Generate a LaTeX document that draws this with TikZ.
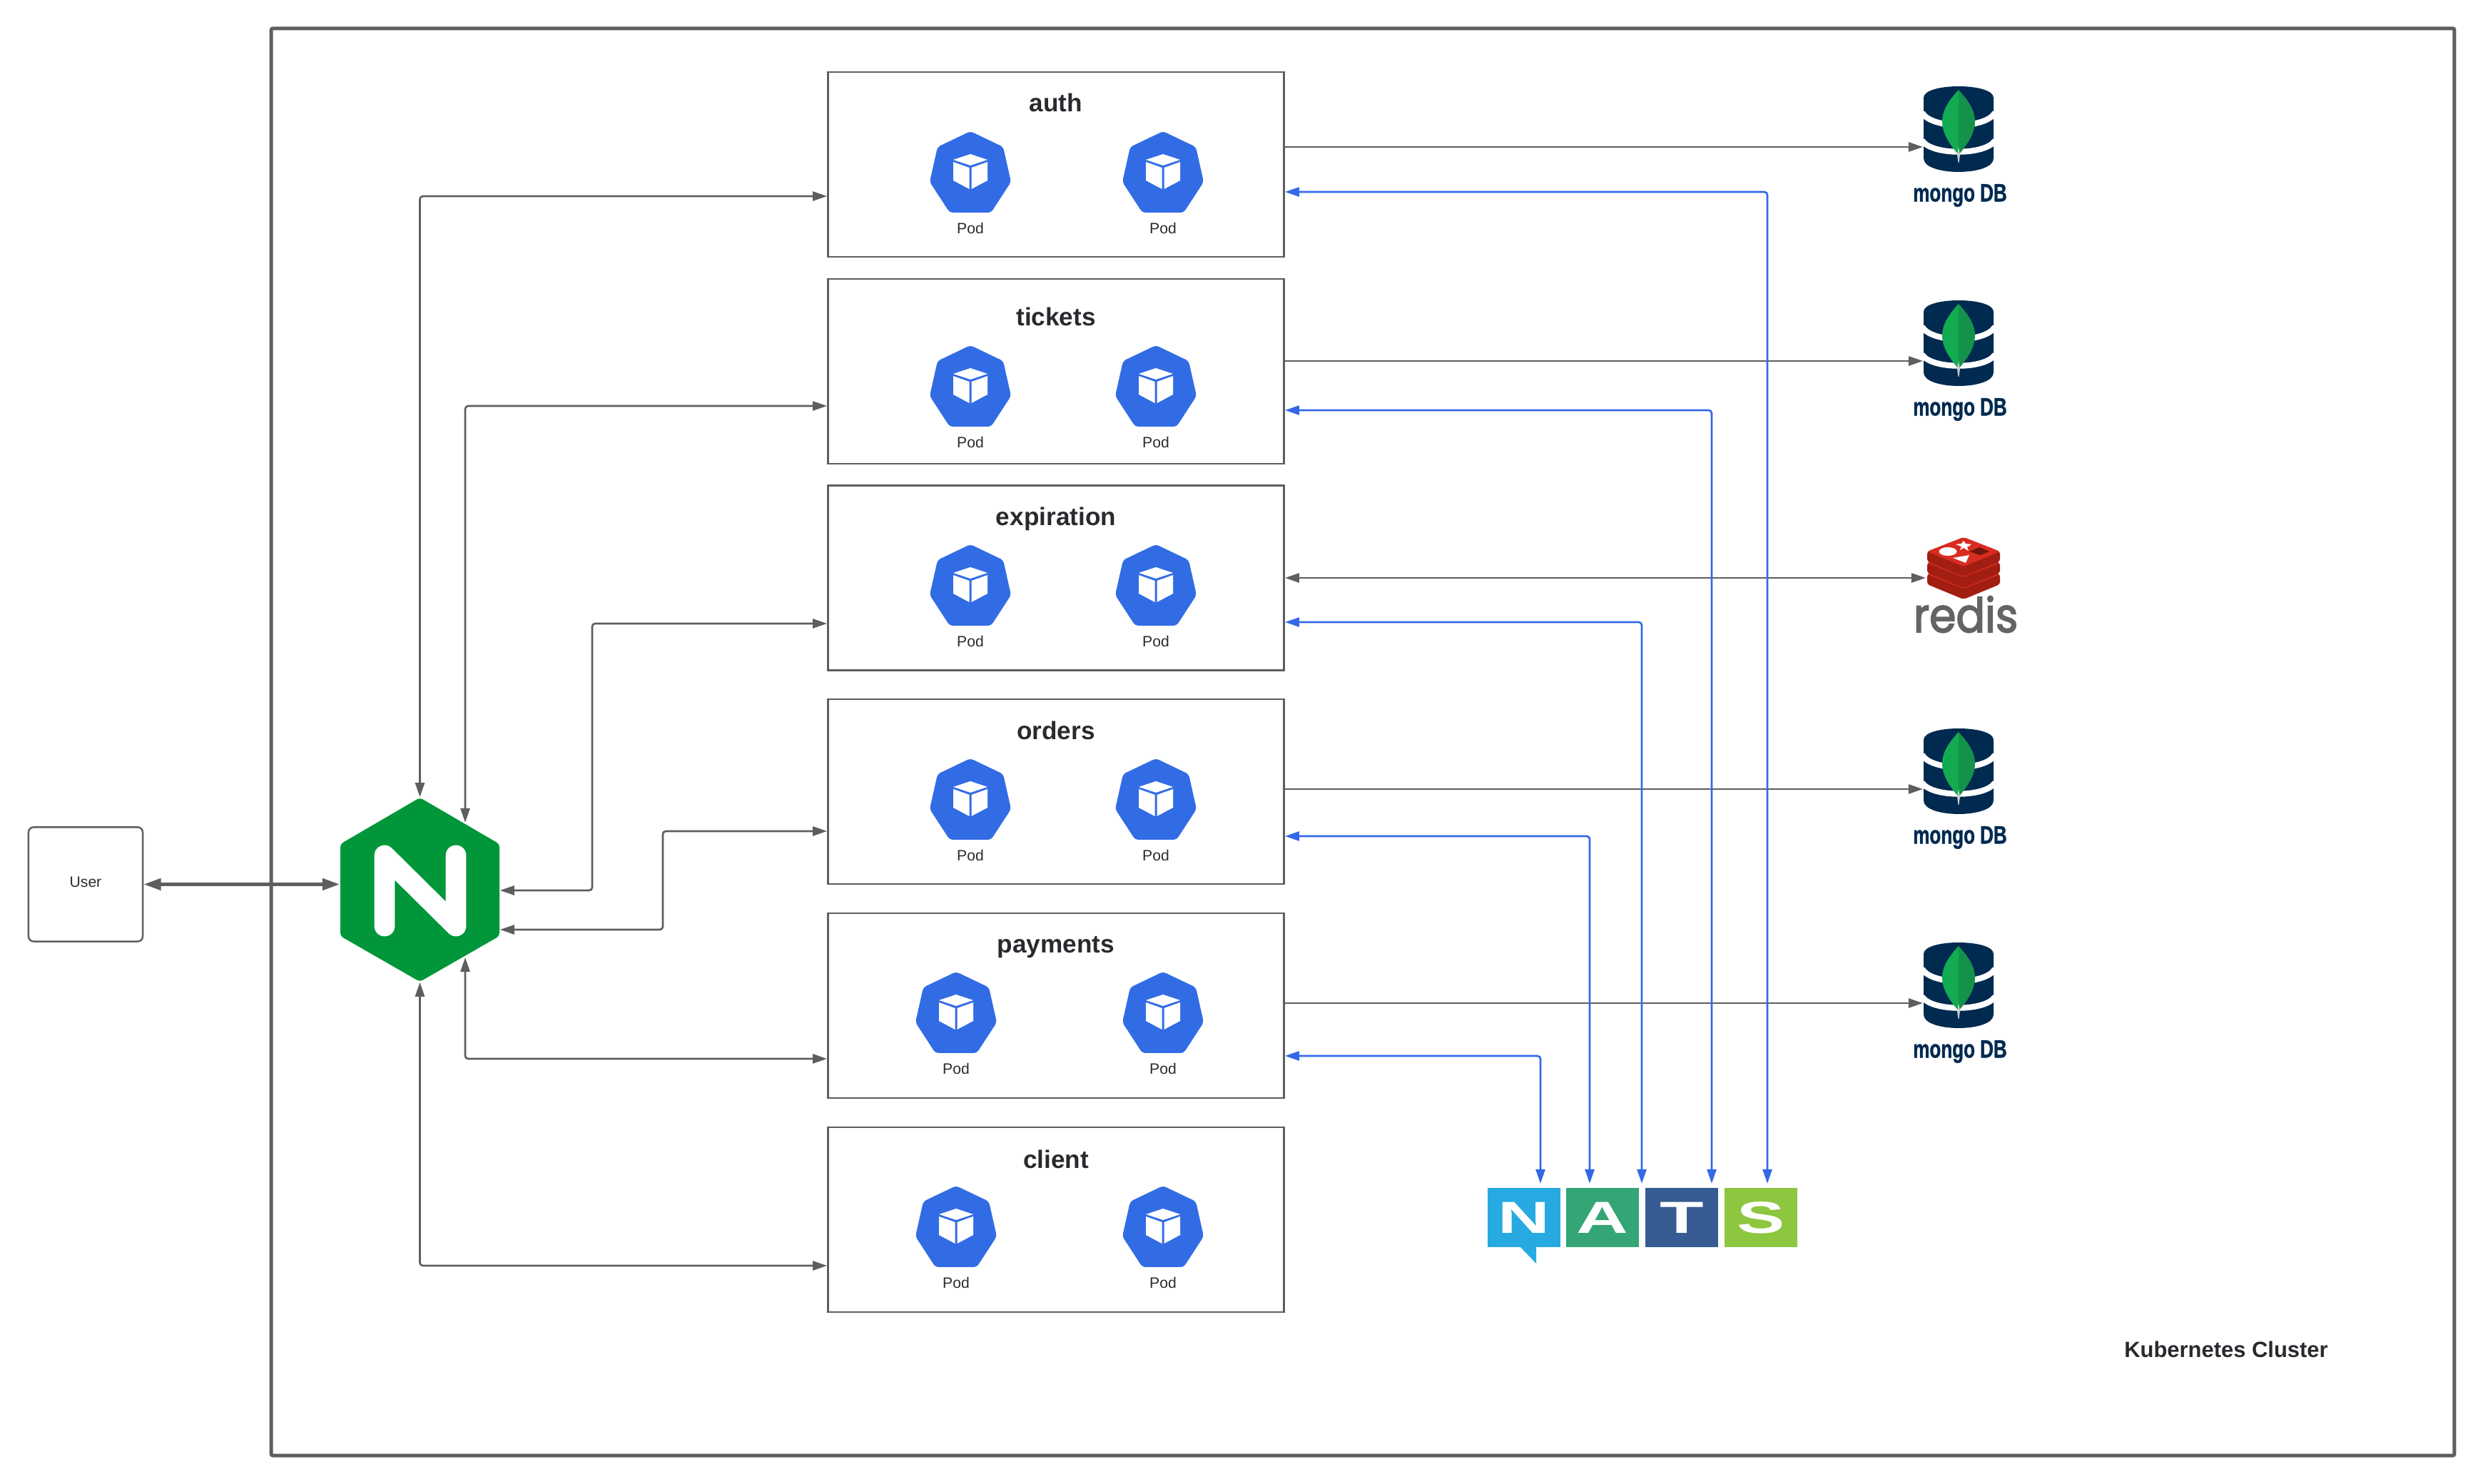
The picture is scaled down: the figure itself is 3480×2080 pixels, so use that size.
\documentclass[tikz,border=0pt]{standalone}
\usepackage{xcolor}
\usepackage{fontspec}
\setmainfont{Liberation Sans}
\newfontfamily\mongofont{Liberation Sans}[FakeStretch=0.74,FakeBold=1.2]
\newfontfamily\natsfont{Liberation Sans}[FakeStretch=1.6]
\newfontfamily\redisfont{Poppins}[FakeStretch=0.9,FakeBold=2.5]
\usepackage{tikz}
\usetikzlibrary{positioning, arrows.meta}
\definecolor{linegray}{RGB}{94,94,94}
\definecolor{busblue}{RGB}{51,105,231}
\definecolor{podblue}{RGB}{50,108,229}
\definecolor{textdark}{RGB}{40,42,46}
\definecolor{nginxgreen}{RGB}{0,150,57}
\definecolor{mongonavy}{RGB}{0,42,80}
\definecolor{leaflight}{RGB}{19,170,82}
\definecolor{leafdark}{RGB}{20,146,74}
\definecolor{redislight}{RGB}{216,44,32}
\definecolor{redisdark}{RGB}{162,30,18}
\definecolor{redisgray}{RGB}{99,100,102}
\definecolor{natsn}{RGB}{39,170,225}
\definecolor{natsa}{RGB}{52,165,116}
\definecolor{natst}{RGB}{55,92,147}
\definecolor{natss}{RGB}{141,198,63}

\begin{document}
\begin{tikzpicture}[
  x=0.01cm, y=-0.01cm,
  cluster/.style={rectangle, draw=linegray, line width=1.4pt, rounded corners=0.6pt,
                  minimum width=30.58cm, minimum height=19.99cm},
  svc/.style={rectangle, draw=linegray, line width=0.7pt,
              minimum width=6.39cm, minimum height=2.59cm},
  svclbl/.style={font=\fontsize{10pt}{12pt}\selectfont\bfseries, text=textdark},
  userbox/.style={rectangle, draw=linegray, line width=0.7pt, rounded corners=2pt,
                  minimum width=1.6cm, minimum height=1.6cm, text=textdark,
                  font=\fontsize{6pt}{7pt}\selectfont},
  hub/.style={rectangle, inner sep=0pt, minimum width=2.23cm, minimum height=2.58cm},
  tile/.style={rectangle, inner sep=0pt, minimum width=1.02cm, minimum height=0.83cm,
               text=white, font=\fontsize{17.9pt}{18pt}\natsfont\bfseries},
  arr/.style={{Triangle[length=5.7pt,width=3.7pt]}-{Triangle[length=5.7pt,width=3.7pt]},
              draw=linegray, line width=0.75pt, rounded corners=1.2pt},
  thickarr/.style={{Triangle[length=6.9pt,width=4.5pt]}-{Triangle[length=6.9pt,width=4.5pt]},
              draw=linegray, line width=1.4pt},
  oneway/.style={-{Triangle[length=5.7pt,width=3.7pt]}, draw=linegray, line width=0.75pt},
  bus/.style={{Triangle[length=5.7pt,width=3.7pt]}-{Triangle[length=5.7pt,width=3.7pt]},
              draw=busblue, line width=0.75pt, rounded corners=1.2pt},
  podicon/.pic={
    \fill[podblue, rounded corners=1.2pt] (0,0) -- (46,22) -- (57,71) -- (29,114)
      -- (-29,114) -- (-57,71) -- (-46,22) -- cycle;
    \fill[white] (0,32) -- (24,40) -- (0,48) -- (-24,40) -- cycle;
    \fill[white] (-24,43) -- (-1.5,51) -- (-1.5,81) -- (-24,69) -- cycle;
    \fill[white] (24,43) -- (1.5,51) -- (1.5,81) -- (24,69) -- cycle;
    \node[text=textdark, font=\fontsize{6pt}{7pt}\selectfont] (-lbl) at (0,136) {Pod};
  },
  mongodb/.pic={
    \fill[mongonavy] (-49,16) .. controls (-49,-5.3) and (49,-5.3) .. (49,16)
      -- (49,101) .. controls (49,126.3) and (-49,126.3) .. (-49,101) -- cycle;
    \draw[white, line width=2.3pt] (-51,37) .. controls (-38,60) and (38,60) .. (51,37);
    \draw[white, line width=2.3pt] (-51,76) .. controls (-38,97) and (38,97) .. (51,76);
    \fill[leaflight] (0,5) .. controls (-14,20) and (-23,34) .. (-23,49)
      .. controls (-23,68) and (-10,84) .. (0,96) -- cycle;
    \fill[leafdark] (0,5) .. controls (14,20) and (23,34) .. (23,49)
      .. controls (23,68) and (10,84) .. (0,96) -- cycle;
    \fill[black!20] (0,85) -- (2,96) -- (0.5,107) -- (-0.5,107) -- (-2,96) -- cycle;
    \coordinate (-west) at (-50,85);
    \node[text=mongonavy, font=\fontsize{10pt}{12pt}\mongofont\bfseries] (-lbl) at (2,153) {mongo DB};
  },
  redisstack/.pic={
    % bottom layer first
    \fill[redisdark, rounded corners=1pt] (-51,52) -- (0,32) -- (51,52) -- (51,66) -- (0,87) -- (-51,66) -- cycle;
    \fill[redislight, rounded corners=1pt] (-51,52) -- (0,32) -- (51,52) -- (0,72) -- cycle;
    \fill[redisdark, rounded corners=1pt] (-51,36) -- (0,16) -- (51,36) -- (51,50) -- (0,71) -- (-51,50) -- cycle;
    \fill[redislight, rounded corners=1pt] (-51,36) -- (0,16) -- (51,36) -- (0,56) -- cycle;
    \fill[redisdark, rounded corners=1pt] (-51,20) -- (0,0) -- (51,20) -- (51,34) -- (0,55) -- (-51,34) -- cycle;
    \fill[redislight, rounded corners=1pt] (-51,20) -- (0,0) -- (51,20) -- (0,41) -- cycle;
    % symbols on the top face
    \fill[white] (-22,20) ellipse [x radius=12.5, y radius=6];
    \fill[white] (0,5) -- (3,9) -- (11,10) -- (5,14) -- (7,19) -- (0,15) -- (-5,18) -- (-3,13) -- (-11,10) -- (-3,9) -- cycle;
    \fill[white] (-15,29) -- (8,25) -- (3,36) -- cycle;
    \fill[redisdark!70!black] (8,20) -- (23,14) -- (36,20) -- (23,25) -- cycle;
    \coordinate (-west) at (-53,57);
    \node[text=redisgray, font=\fontsize{19pt}{20pt}\redisfont] (-lbl) at (3,108) {redis};
  }
]
\useasboundingbox (0,0) rectangle (3480,2080);

% Cluster
\node[cluster] (cluster) at (1910,1040) {};
\node[font=\fontsize{8.8pt}{11pt}\selectfont\bfseries, text=textdark] (clusterlbl) at (3120,1891) {Kubernetes Cluster};

% User and ingress
\node[userbox] (user) at (120,1239.5) {};
\node[text=textdark, font=\fontsize{6pt}{7pt}\selectfont] (userlbl) at (120,1236) {User};
\node[hub] (nginx) at (588.5,1247) {};
\fill[nginxgreen, rounded corners=1.2pt] (588.5,1118) -- (700,1183) -- (700,1312) -- (588.5,1376)
  -- (477,1312) -- (477,1183) -- cycle;
\draw[white, line width=8.2pt, line cap=round, line join=round] (539,1298) -- (539,1199) -- (639,1298) -- (639,1199);
\coordinate (nginxNE) at (652,1153);
\coordinate (nginxSE) at (652,1342);

% Services
\node[svc] (auth)       at (1480,230.5)  {};
\node[svc] (tickets)    at (1480,520.5)  {};
\node[svc] (expiration) at (1480,810) {};
\node[svc] (orders)     at (1480,1109.5) {};
\node[svc] (payments)   at (1480,1409.5) {};
\node[svc] (client)     at (1480,1709.5) {};

\node[svclbl] (authlbl)       at (1480,144)  {auth};
\node[svclbl] (ticketslbl)    at (1480,444)  {tickets};
\node[svclbl] (expirationlbl) at (1480,727)  {expiration};
\node[svclbl] (orderslbl)     at (1480,1024) {orders};
\node[svclbl] (paymentslbl)   at (1480,1328) {payments};
\node[svclbl] (clientlbl)     at (1480,1625) {client};

% Pods
\pic (pod1) at (1360,184)  {podicon};
\pic (pod2) at (1630,184)  {podicon};
\pic (pod3) at (1360,484)  {podicon};
\pic (pod4) at (1620,484)  {podicon};
\pic (pod5) at (1360,763)  {podicon};
\pic (pod6) at (1620,763)  {podicon};
\pic (pod7) at (1360,1063) {podicon};
\pic (pod8) at (1620,1063) {podicon};
\pic (pod9) at (1340,1362) {podicon};
\pic (pod10) at (1630,1362) {podicon};
\pic (pod11) at (1340,1662) {podicon};
\pic (pod12) at (1630,1662) {podicon};

% Data stores
\pic (db1) at (2745,121)  {mongodb};
\pic (db2) at (2745,421)  {mongodb};
\pic (redis) at (2752,753) {redisstack};
\pic (db3) at (2745,1021) {mongodb};
\pic (db4) at (2745,1321) {mongodb};

% NATS
\fill[natsn] (2128,1745) -- (2153,1771) -- (2153,1745) -- cycle;
\node[tile, fill=natsn] (natsN) at (2136,1706.5) {N};
\node[tile, fill=natsa] (natsA) at (2246,1706.5) {A};
\node[tile, fill=natst] (natsT) at (2357,1706.5) {T};
\node[tile, fill=natss] (natsS) at (2468,1706.5) {S};
\coordinate (bus1) at (2159,1659);
\coordinate (bus2) at (2228,1659);
\coordinate (bus3) at (2301,1659);
\coordinate (bus4) at (2399,1659);
\coordinate (bus5) at (2477,1659);

% User <-> ingress
\draw[thickarr] (user.east) -- (nginx.west |- user.east);

% Ingress <-> services
\draw[arr] (nginx.north) |- (auth.west |- 0,275);
\draw[arr] (nginxNE) |- (tickets.west |- 0,569);
\draw[arr] (nginx.east |- 0,1248) -| (830,874) -- (expiration.west |- 0,874);
\draw[arr] (nginx.east |- 0,1303) -| (929,1165) -- (orders.west |- 0,1165);
\draw[arr] (nginxSE) |- (payments.west |- 0,1484);
\draw[arr] (nginx.south) |- (client.west |- 0,1774);

% Services -> data stores
\draw[oneway] (auth.east |- db1-west) -- (db1-west);
\draw[oneway] (tickets.east |- db2-west) -- (db2-west);
\draw[arr] (expiration.east |- redis-west) -- (redis-west);
\draw[oneway] (orders.east |- db3-west) -- (db3-west);
\draw[oneway] (payments.east |- db4-west) -- (db4-west);

% Services <-> NATS
\draw[bus] (auth.east |- 0,269) -| (bus5);
\draw[bus] (tickets.east |- 0,575) -| (bus4);
\draw[bus] (expiration.east |- 0,872) -| (bus3);
\draw[bus] (orders.east |- 0,1172) -| (bus2);
\draw[bus] (payments.east |- 0,1480) -| (bus1);

\end{tikzpicture}
\end{document}
